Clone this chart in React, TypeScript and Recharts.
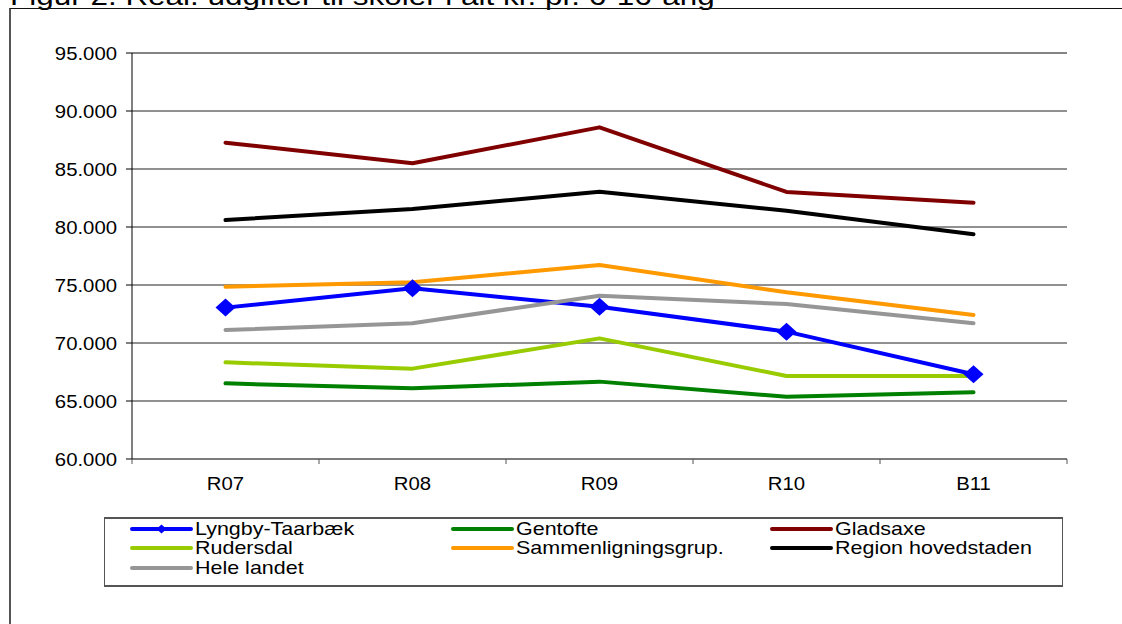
import React from 'react';
import { LineChart, Line, XAxis, YAxis, CartesianGrid, ReferenceLine } from 'recharts';

const categories = ['R07', 'R08', 'R09', 'R10', 'B11'];
const lyngby = [73050, 74710, 73130, 70980, 67300];
const gentofte = [66520, 66090, 66670, 65370, 65750];
const gladsaxe = [87270, 85490, 88590, 83020, 82100];
const rudersdal = [68330, 67790, 70400, 67160, 67160];
const sammenligning = [74850, 75230, 76720, 74370, 72410];
const region = [80600, 81550, 83040, 81400, 79370];
const heleLandet = [71120, 71700, 74080, 73360, 71700];
const yTicks = [60000, 65000, 70000, 75000, 80000, 85000, 90000, 95000];
const title = 'Figur 2. Real. udgifter til skoler i alt kr. pr. 6-16-årig';

const series = [
  { key: 'lyngby', name: 'Lyngby-Taarbæk', color: '#0000FF', values: lyngby, marker: true },
  { key: 'gentofte', name: 'Gentofte', color: '#008000', values: gentofte },
  { key: 'gladsaxe', name: 'Gladsaxe', color: '#800000', values: gladsaxe },
  { key: 'rudersdal', name: 'Rudersdal', color: '#99CC00', values: rudersdal },
  { key: 'sammen', name: 'Sammenligningsgrup.', color: '#FF9900', values: sammenligning },
  { key: 'region', name: 'Region hovedstaden', color: '#000000', values: region },
  { key: 'hele', name: 'Hele landet', color: '#969696', values: heleLandet },
];

const data = categories.map((c, i) => {
  const row: Record<string, string | number> = { cat: c };
  series.forEach((s) => { row[s.key] = s.values[i]; });
  return row;
});

const W = 1122;
const H = 624;
const M = { top: 53, right: 55, left: 0, bottom: 135 };
const Y_W = 132;
const X_H = 30;
const PLOT_W = W - M.right - Y_W;
const BAND = PLOT_W / categories.length;
const FONT = '"Liberation Sans", Arial, sans-serif';
const SX = 1.13;

const fmt = (v: number) => String(v).replace(/\B(?=(\d{3})+(?!\d))/g, '.');

const YTick = (p: any) => (
  <text transform={`translate(${p.x},${p.y + 6.5}) scale(${SX},1)`} textAnchor="end" fontSize={18} fontFamily={FONT} fill="#000">
    {fmt(p.payload.value)}
  </text>
);

const XTick = (p: any) => {
  const axisY = p.y - 8;
  const last = p.index === categories.length - 1;
  return (
    <g>
      <line x1={p.x - BAND / 2} x2={p.x - BAND / 2} y1={axisY} y2={axisY + 5} stroke="#555" />
      {last && <line x1={p.x + BAND / 2} x2={p.x + BAND / 2} y1={axisY} y2={axisY + 5} stroke="#555" />}
      <text transform={`translate(${p.x},${axisY + 30.5}) scale(${SX},1)`} textAnchor="middle" fontSize={18} fontFamily={FONT} fill="#000">
        {p.payload.value}
      </text>
    </g>
  );
};

const Diamond = (p: any) => {
  const { cx, cy } = p;
  if (cx == null || cy == null) return null;
  return <polygon points={`${cx - 10},${cy} ${cx},${cy - 9} ${cx + 10},${cy} ${cx},${cy + 9}`} fill="#0000FF" />;
};

const legendCols = [132, 453, 772];
const legendRows = [529, 548, 568];

export default function App() {
  return (
    <div style={{ position: 'absolute', left: 0, top: 0, width: W, height: H, overflow: 'hidden', background: '#fff', fontFamily: FONT }}>
      <div style={{ position: 'absolute', left: 10, top: -17, fontSize: 26, lineHeight: '26px', whiteSpace: 'nowrap', transform: 'scaleX(1.21)', transformOrigin: 'left top', color: '#000' }}>
        {title}
      </div>
      <div style={{ position: 'absolute', left: 9, top: 8, width: 1200, height: 700, borderLeft: '2px solid #555', borderTop: '1px solid #111' }} />
      <div style={{ position: 'absolute', left: 0, top: 0 }}>
        <LineChart width={W} height={H} data={data} margin={M}>
          <CartesianGrid vertical={false} stroke="#222" />
          <XAxis dataKey="cat" height={X_H} padding={{ left: BAND / 2, right: BAND / 2 }} tickLine={false} tickSize={6} tickMargin={2} axisLine={{ stroke: '#666' }} tick={<XTick />} interval={0} />
          <YAxis width={Y_W} domain={[60000, 95000]} ticks={yTicks} interval={0} tickSize={6} tickMargin={9} axisLine={{ stroke: '#000' }} tickLine={{ stroke: '#000' }} tick={<YTick />} />
          <YAxis yAxisId="r" orientation="right" width={0} domain={[60000, 95000]} tick={false} tickLine={false} axisLine={{ stroke: '#777' }} />
          <ReferenceLine y={95000} stroke="#808080" strokeWidth={1.5} />
          {series.map((s) => (
            <Line key={s.key} dataKey={s.key} name={s.name} stroke={s.color} strokeWidth={4} strokeLinecap="round" strokeLinejoin="round" dot={false} activeDot={false} isAnimationActive={false} />
          ))}
          <Line dataKey="lyngby" stroke="none" dot={<Diamond />} activeDot={false} legendType="none" isAnimationActive={false} />
        </LineChart>
      </div>
      <div style={{ position: 'absolute', left: 104, top: 517, width: 1063 - 104, height: 587 - 517, border: '1px solid #555', boxSizing: 'border-box', borderTopWidth: 2, borderBottomWidth: 2 }} />
      {series.map((s, i) => {
        const x = legendCols[i % 3];
        const y = legendRows[Math.floor(i / 3)];
        return (
          <React.Fragment key={s.key}>
            <svg style={{ position: 'absolute', left: x - 2, top: y - 6 }} width={64} height={12}>
              <line x1={2} x2={61} y1={6} y2={6} stroke={s.color} strokeWidth={4} strokeLinecap="round" />
              {s.marker && <polygon points="26.5,6 31.5,1.5 36.5,6 31.5,10.5" fill={s.color} />}
            </svg>
            <div style={{ position: 'absolute', left: x + 63, top: y - 11, fontSize: 19, lineHeight: '22px', whiteSpace: 'nowrap', transform: `scaleX(${SX})`, transformOrigin: 'left center', color: '#000' }}>
              {s.name}
            </div>
          </React.Fragment>
        );
      })}
    </div>
  );
}
